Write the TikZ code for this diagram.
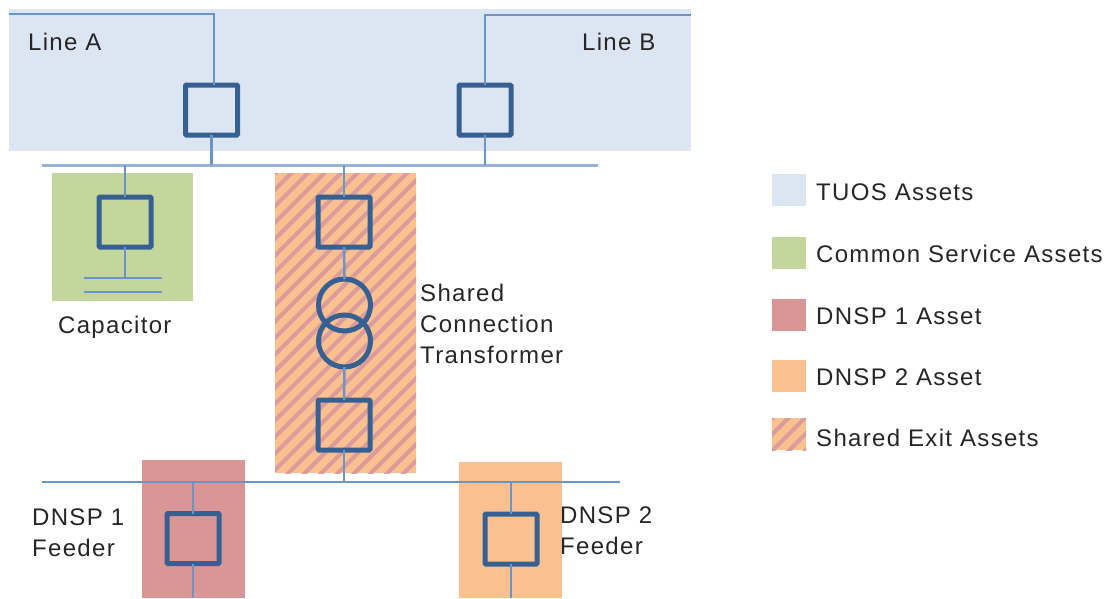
\documentclass[tikz,border=0pt]{standalone}
\usepackage{fontspec}
\setmainfont{Liberation Sans}[LetterSpace=5.5]
\definecolor{tuos}{HTML}{DCE6F2}
\definecolor{common}{HTML}{C3D69B}
\definecolor{dnspa}{HTML}{D99694}
\definecolor{dnspb}{HTML}{FAC090}
\definecolor{boxc}{HTML}{376092}
\definecolor{linec}{HTML}{6A95C8}
\definecolor{busc}{HTML}{95B3D7}
\definecolor{stripec}{HTML}{DB9C9C}
\tikzset{
  switchbox/.style={draw=boxc,line width=5pt,rounded corners=1pt,minimum width=52pt,minimum height=50pt,inner sep=0pt,outer sep=0pt},
  coil/.style={circle,draw=boxc,line width=5pt,minimum size=52pt,inner sep=0pt,outer sep=0pt},
  wire/.style={draw=linec,line width=2.5pt},
  thinwire/.style={draw=linec,line width=2pt},
  bus/.style={draw=busc,line width=3pt},
  lowbus/.style={draw=linec,line width=2.5pt},
  area/.style={inner sep=0pt,outer sep=0pt,anchor=north west},
  txt/.style={anchor=west,inner sep=0pt,font=\fontsize{24}{31}\selectfont,align=left,text=black!85},
  hatchline/.style={draw=stripec,line width=4pt}
}
\begin{document}
\begin{tikzpicture}[x=1pt,y=-1pt]
\useasboundingbox (0,0) rectangle (1108,598);
% coloured areas
\node[area,fill=tuos,minimum width=682pt,minimum height=142pt] (atuos) at (9,9) {};
\node[area,fill=common,minimum width=141pt,minimum height=128pt] (acommon) at (52,173) {};
\node[area,fill=dnspb,minimum width=141pt,minimum height=300pt] (ashared) at (275,173) {};
\node[area,fill=dnspa,minimum width=103pt,minimum height=138pt] (adnspa) at (142,460) {};
\node[area,fill=dnspb,minimum width=103pt,minimum height=136pt] (adnspb) at (459,462) {};
\begin{scope}
  \clip (275,173) rectangle (416,473);
  \foreach \k in {0,...,28} {
    \draw[hatchline] (275+16.5*\k-300-20,473+20) -- ++(340,-340);
  }
\end{scope}
% free ends and buses
\coordinate (busAl) at (42,165);
\coordinate (busAr) at (598,165);
\coordinate (busBl) at (42,482);
\coordinate (busBr) at (620,482);
\draw[bus] (busAl) -- (busAr);
\draw[lowbus] (busBl) -- (busBr);
% switch boxes
\node[switchbox] (sa) at (211.5,110) {};
\node[switchbox] (sb) at (485,110) {};
\node[switchbox] (sc) at (125,222) {};
\node[switchbox] (sd) at (344,222) {};
\node[switchbox] (se) at (344,425) {};
\node[switchbox] (sf) at (193,538.5) {};
\node[switchbox] (sg) at (511,539) {};
% transformer
\node[coil] (ta) at (344.5,305) {};
\node[coil] (tb) at (344.5,341) {};
% line ends
\coordinate (lineA0) at (9,14);
\coordinate (lineA1) at (214,14);
\coordinate (lineB0) at (691,15);
\coordinate (lineB1) at (485,15);
\coordinate (plateAl) at (84,278);
\coordinate (plateAr) at (162,278);
\coordinate (plateBl) at (84,292);
\coordinate (plateBr) at (162,292);
\coordinate (feedA) at (193,598);
\coordinate (feedB) at (511,598);
% connectors
\draw[thinwire] (lineA0) -- (lineA1) -- (lineA1 |- sa.north);
\draw[thinwire] (lineB0) -- (lineB1) -- (lineB1 |- sb.north);
\draw[wire] (sa.south) -- (sa.south |- busAl);
\draw[wire] (sb.south) -- (sb.south |- busAl);
\draw[wire] (sc.north) -- (sc.north |- busAl);
\draw[wire] (sd.north) -- (sd.north |- busAl);
\draw[wire] (sc.south) -- (sc.south |- plateAl);
\draw[thinwire] (plateAl) -- (plateAr);
\draw[thinwire] (plateBl) -- (plateBr);
\draw[wire] (sd.south) -- (ta.north);
\draw[wire] (tb.south) -- (se.north);
\draw[wire] (se.south) -- (se.south |- busBl);
\draw[wire] (sf.north) -- (sf.north |- busBl);
\draw[wire] (sg.north) -- (sg.north |- busBl);
\draw[wire] (sf.south) -- (feedA);
\draw[wire] (sg.south) -- (feedB);
% labels
\node[txt] (tla) at (28,42) {Line A};
\node[txt] (tlb) at (582,42) {Line B};
\node[txt] (tcap) at (58,327) {Capacitor};
\node[txt] (tsct) at (420,324) {Shared\\Connection\\Transformer};
\node[txt] (tfa) at (32,533) {DNSP 1\\Feeder};
\node[txt] (tfb) at (560,531) {DNSP 2\\Feeder};
% legend
\node[area,fill=tuos,minimum width=34pt,minimum height=32pt] (ka) at (772,174) {};
\node[area,fill=common,minimum width=34pt,minimum height=32pt] (kb) at (772,237) {};
\node[area,fill=dnspa,minimum width=34pt,minimum height=32pt] (kc) at (772,299) {};
\node[area,fill=dnspb,minimum width=34pt,minimum height=32pt] (kd) at (772,360) {};
\node[area,fill=dnspb,minimum width=34pt,minimum height=32pt] (ke) at (772,418) {};
\begin{scope}
  \clip (772,418) rectangle (806,450);
  \foreach \k in {0,...,5} {
    \draw[hatchline] (772+16.5*\k-32-10,450+10) -- ++(52,-52);
  }
\end{scope}
\node[txt] (la) at (816,192) {TUOS Assets};
\node[txt] (lb) at (816,254) {Common Service Assets};
\node[txt] (lc) at (816,316) {DNSP 1 Asset};
\node[txt] (ld) at (816,377) {DNSP 2 Asset};
\node[txt] (le) at (816,438) {Shared Exit Assets};
\end{tikzpicture}
\end{document}
